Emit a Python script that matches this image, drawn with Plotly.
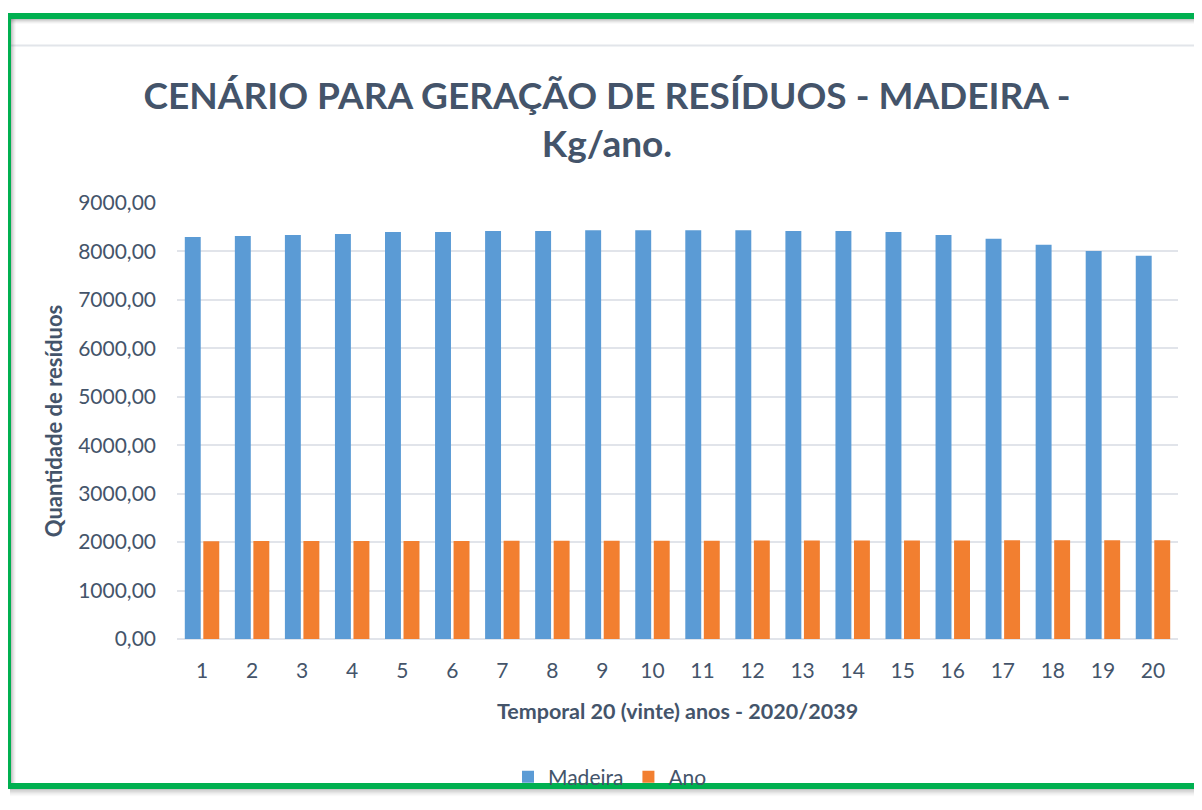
import plotly.graph_objects as go

categories = [str(i) for i in range(1, 21)]
madeira = [8300, 8320, 8340, 8360, 8400, 8400, 8420, 8420, 8440, 8440,
           8440, 8440, 8420, 8420, 8400, 8340, 8260, 8140, 8010, 7910]
ano = [2020, 2021, 2022, 2023, 2024, 2025, 2026, 2027, 2028, 2029,
       2030, 2031, 2032, 2033, 2034, 2035, 2036, 2037, 2038, 2039]
y_ticks = [0, 1000, 2000, 3000, 4000, 5000, 6000, 7000, 8000, 9000]

TEXT = "#44546a"
FONT = "Lato"
OFF = 8  # page body margin
W, H = 1202 - OFF, 810 - OFF
# plot area in page pixels
L, R, T, B = 177, 1178, 203, 639


def px(x):
    return (x - L) / (R - L)


def py(y):
    return (B - y) / (B - T)


fig = go.Figure()
fig.add_trace(go.Bar(x=categories, y=madeira, name="Madeira",
                     marker=dict(color="#5b9bd5", line=dict(width=0))))
fig.add_trace(go.Bar(x=categories, y=ano, name="Ano",
                     marker=dict(color="#f27f30", line=dict(width=0))))

shapes = []
# light inner chart border line
shapes.append(dict(type="line", xref="paper", yref="paper", x0=px(10), x1=px(1210),
                   y0=py(45.5), y1=py(45.5), line=dict(color="#e2e5ea", width=2)))
shapes.append(dict(type="line", xref="paper", yref="paper", x0=px(7), x1=px(7),
                   y0=py(789), y1=py(812), line=dict(color="#e2e5ea", width=1.5)))
# drop shadows
for i, op in enumerate([0.35, 0.25, 0.16, 0.09, 0.04]):
    c = "rgba(90,90,90,%.2f)" % op
    shapes.append(dict(type="line", xref="paper", yref="paper", x0=px(11), x1=px(1210),
                       y0=py(19.5 + i), y1=py(19.5 + i), line=dict(color=c, width=1)))
    shapes.append(dict(type="line", xref="paper", yref="paper", x0=px(11.5 + i), x1=px(11.5 + i),
                       y0=py(19), y1=py(783), line=dict(color=c, width=1)))
    shapes.append(dict(type="line", xref="paper", yref="paper", x0=px(10), x1=px(1210),
                       y0=py(789.5 + i * 1.5), y1=py(789.5 + i * 1.5), line=dict(color=c, width=1.5)))
# green frame
G = "#00b050"
shapes.append(dict(type="line", xref="paper", yref="paper", x0=px(5), x1=px(1210),
                   y0=py(16), y1=py(16), line=dict(color=G, width=6)))
shapes.append(dict(type="line", xref="paper", yref="paper", x0=px(8), x1=px(8),
                   y0=py(13), y1=py(789), line=dict(color=G, width=6)))
shapes.append(dict(type="line", xref="paper", yref="paper", x0=px(5), x1=px(1210),
                   y0=py(786), y1=py(786), line=dict(color=G, width=6)))

fig.update_layout(
    width=W, height=H,
    margin=dict(l=L - OFF, r=1202 - R, t=T - OFF, b=810 - B, autoexpand=False),
    paper_bgcolor="white", plot_bgcolor="white",
    separators=",.",
    font=dict(family=FONT, color=TEXT, size=21),
    title=dict(text="<b>CENÁRIO PARA GERAÇÃO DE RESÍDUOS - MADEIRA -<br>Kg/ano.</b>",
               x=(607 - OFF) / W, xanchor="center", y=1 - 101 / H, yanchor="top",
               font=dict(family=FONT, size=37, color=TEXT)),
    barmode="group", bargap=0.26, bargroupgap=0.14,
    xaxis=dict(type="category", showgrid=False, showline=False, ticks="",
               tickfont=dict(size=21, color=TEXT), ticklabelstandoff=17,
               title=dict(text="<b>Temporal 20 (vinte) anos - 2020/2039</b>",
                          font=dict(size=21.5, color=TEXT), standoff=22)),
    yaxis=dict(range=[0, 9000], tickvals=y_ticks, tickformat=".2f",
               showgrid=True, gridcolor="#e1e4ea", gridwidth=2,
               zeroline=True, zerolinecolor="#e1e4ea", zerolinewidth=2,
               showline=False, ticks="", ticklabelstandoff=20,
               tickfont=dict(size=21, color=TEXT),
               title=dict(text="<b>Quantidade de resíduos</b>",
                          font=dict(size=22, color=TEXT), standoff=9)),
    legend=dict(orientation="h", x=px(610), xanchor="center", y=py(777), yanchor="middle",
                font=dict(size=21, color=TEXT), bgcolor="rgba(0,0,0,0)",
                itemwidth=30, traceorder="normal"),
    shapes=shapes,
)

fig.write_html("out.html")
